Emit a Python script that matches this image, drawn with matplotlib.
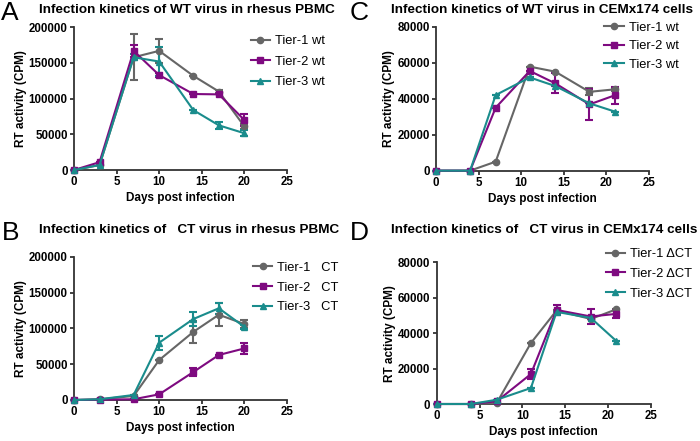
import matplotlib
matplotlib.use("Agg")
import matplotlib.pyplot as plt
from matplotlib.lines import Line2D

plt.rcParams['font.family'] = ['Liberation Sans', 'DejaVu Sans']

GRAY = '#666666'
PURPLE = '#7e0a80'
TEAL = '#1a8c8c'

# Panel A: WT virus in rhesus PBMC
days_a = [0, 3, 7, 10, 14, 17, 20]
a_t1 = [0, 7000, 158000, 167000, 132000, 110000, 61000]
a_t1_err = [0, 0, 32000, 17000, 0, 2000, 4000]
a_t2 = [0, 11000, 167000, 133000, 106500, 106000, 70000]
a_t2_err = [0, 0, 8000, 3000, 0, 0, 8000]
a_t3 = [0, 7000, 158000, 152000, 84000, 62600, 51500]
a_t3_err = [0, 0, 4000, 20000, 0, 5000, 4000]

# Panel B: CT virus in rhesus PBMC
days_b = [0, 3, 7, 10, 14, 17, 20]
b_t1 = [0, 1000, 5600, 55800, 95000, 119000, 106000]
b_t1_err = [0, 0, 0, 0, 15000, 16000, 5000]
b_t2 = [0, 500, 1000, 7900, 39000, 62800, 72000]
b_t2_err = [0, 0, 0, 0, 6000, 0, 8000]
b_t3 = [0, 1000, 7000, 80000, 113000, 128000, 102000]
b_t3_err = [0, 0, 0, 10000, 10000, 8000, 3000]

# Panel C: WT virus in CEMx174 cells
days_c = [0, 4, 7, 11, 14, 18, 21]
c_t1 = [0, 0, 5000, 57800, 55000, 43800, 45200]
c_t1_err = [0, 0, 0, 0, 0, 2000, 1000]
c_t2 = [0, 0, 35000, 55400, 48500, 36800, 41900]
c_t2_err = [0, 0, 0, 0, 5500, 8700, 4700]
c_t3 = [0, 0, 42000, 51800, 47000, 37400, 32800]
c_t3_err = [0, 0, 0, 0, 0, 0, 0]

# Panel D: CT virus in CEMx174 cells
days_d = [0, 4, 7, 11, 14, 18, 21]
d_t1 = [0, 0, 500, 34400, 52800, 48000, 53500]
d_t1_err = [0, 0, 0, 0, 0, 0, 0]
d_t2 = [0, 0, 1500, 16900, 53100, 49400, 50900]
d_t2_err = [0, 0, 0, 3000, 3000, 4500, 2300]
d_t3 = [0, 0, 2400, 9000, 52000, 48600, 35500]
d_t3_err = [0, 0, 0, 0, 0, 0, 0]

labels_wt = ['Tier-1 wt', 'Tier-2 wt', 'Tier-3 wt']
labels_ct_b = ['Tier-1   CT', 'Tier-2   CT', 'Tier-3   CT']
labels_ct_d = ['Tier-1 \u0394CT', 'Tier-2 \u0394CT', 'Tier-3 \u0394CT']

fig = plt.figure(figsize=(7.0, 4.41), dpi=100)

def panel(rect, letter, title, days, series, labels, ymax, ystep, leg_anchor,
          letter_xy, title_xy, lspace):
    ax = fig.add_axes(rect)
    colors = [GRAY, PURPLE, TEAL]
    markers = ['o', 's', '^']
    handles = []
    for (vals, errs), lab, c, m in zip(series, labels, colors, markers):
        ax.errorbar(days, vals, yerr=errs, color=c, marker=m, markersize=4.5,
                    linewidth=1.5, elinewidth=1.5, capsize=3, capthick=1.5,
                    clip_on=False, zorder=3)
        handles.append(Line2D([], [], color=c, marker=m, markersize=4.5,
                              linewidth=1.5, label=lab))
    ax.set_xlim(0, 25)
    ax.set_ylim(0, ymax)
    ax.set_xticks(range(0, 26, 5))
    ax.set_yticks(range(0, ymax + 1, ystep))
    ax.set_yticklabels([str(v) for v in range(0, ymax + 1, ystep)])
    for s in ['top', 'right']:
        ax.spines[s].set_visible(False)
    for s in ['left', 'bottom']:
        ax.spines[s].set_linewidth(1.3)
        ax.spines[s].set_color('#333333')
    ax.tick_params(direction='out', length=3, width=1.3, color='#333333',
                   labelsize=8.3, pad=1.5)
    for t in ax.get_xticklabels() + ax.get_yticklabels():
        t.set_fontweight('bold')
    ax.set_xlabel('Days post infection', fontsize=8.5, fontweight='bold', labelpad=3)
    ax.set_ylabel('RT activity (CPM)', fontsize=8.5, fontweight='bold', labelpad=1.5)
    ax.legend(handles=handles, loc='upper left', bbox_to_anchor=leg_anchor,
              frameon=False, fontsize=9.3, handlelength=1.5, handletextpad=0.4,
              labelspacing=lspace, borderpad=0, borderaxespad=0)
    fig.text(letter_xy[0], letter_xy[1], letter, fontsize=19, va='top', ha='left')
    fig.text(title_xy[0], title_xy[1], title, fontsize=9.7, fontweight='bold',
             va='top', ha='left')
    return ax

panel([0.1057, 0.6145, 0.3043, 0.3236], 'A',
      'Infection kinetics of WT virus in rhesus PBMC', days_a,
      [(a_t1, a_t1_err), (a_t2, a_t2_err), (a_t3, a_t3_err)], labels_wt,
      200000, 50000, (0.83, 0.945), (0.002, 0.998), (0.056, 0.992), 0.65)

panel([0.1057, 0.0930, 0.3043, 0.3249], 'B',
      'Infection kinetics of   CT virus in rhesus PBMC', days_b,
      [(b_t1, b_t1_err), (b_t2, b_t2_err), (b_t3, b_t3_err)], labels_ct_b,
      200000, 50000, (0.84, 0.965), (0.002, 0.498), (0.056, 0.492), 0.6)

panel([0.6229, 0.6130, 0.3043, 0.3265], 'C',
      'Infection kinetics of WT virus in CEMx174 cells', days_c,
      [(c_t1, c_t1_err), (c_t2, c_t2_err), (c_t3, c_t3_err)], labels_wt,
      80000, 20000, (0.79, 1.035), (0.5, 0.998), (0.558, 0.992), 0.5)

panel([0.6239, 0.0839, 0.3057, 0.3213], 'D',
      'Infection kinetics of   CT virus in CEMx174 cells', days_d,
      [(d_t1, d_t1_err), (d_t2, d_t2_err), (d_t3, d_t3_err)], labels_ct_d,
      80000, 20000, (0.79, 1.10), (0.5, 0.498), (0.558, 0.492), 0.6)

fig.savefig('out.png', dpi=100)
